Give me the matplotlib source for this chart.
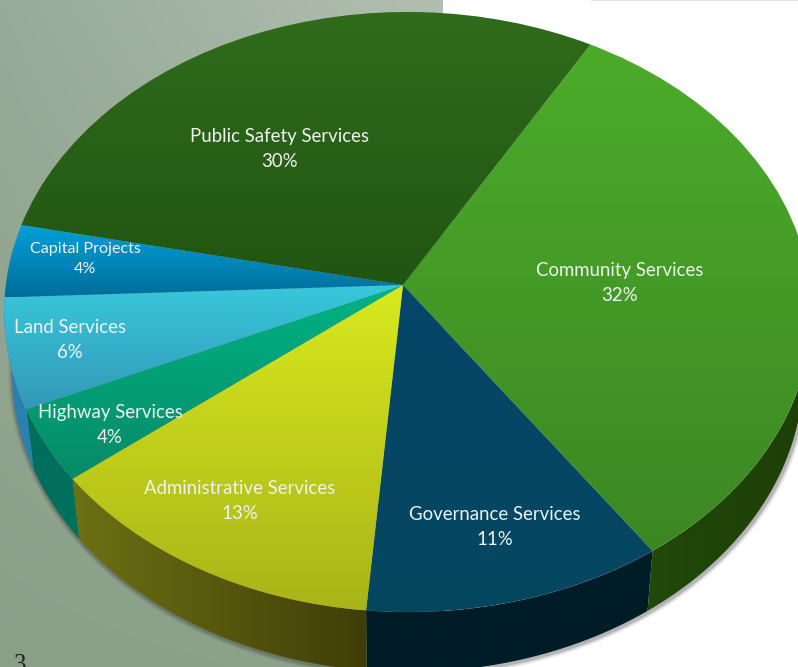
import numpy as np
import matplotlib
matplotlib.use('Agg')
import matplotlib.pyplot as plt
import matplotlib.transforms as mtransforms
from matplotlib.patches import Polygon

# slices, clockwise from the top right
names = ['Community Services', 'Governance Services', 'Administrative Services',
         'Highway Services', 'Land Services', 'Capital Projects', 'Public Safety Services']
shares = [32, 11, 13, 4, 6, 4, 30]

# top face colours (upper, lower)
top_cols = [('#4cac2a', '#3c8723'), ('#05466a', '#06465f'), ('#d8e91e', '#a9b418'),
            ('#00b384', '#068a68'), ('#38c8dc', '#3498b8'), ('#00a0d8', '#006e9a'),
            ('#306c1c', '#215512')]
# side wall colours (left, right)
side_cols = [('#22480a', '#1c3f06'), ('#001c26', '#001c26'), ('#6e7014', '#403e08'),
             ('#006e5c', '#00705c'), ('#2a80b0', '#2a80b0'), None, None]

cx, cy = 403, 285
rx, ry, k, m = 402, 297.6, 0.09, 0.012
depth = 60
shrink = 0.98


class Persp(mtransforms.Transform):
    input_dims = 2
    output_dims = 2
    is_separable = False
    has_inverse = False

    def transform_non_affine(self, values):
        values = np.asarray(values, dtype=float)
        w = 1 + k * values[:, 1] - m * values[:, 0]
        return np.column_stack((cx + rx * values[:, 0] / w, cy - ry * values[:, 1] / w))


def to_rgb(c):
    return np.array(matplotlib.colors.to_rgb(c))


fig = plt.figure(figsize=(7.98, 6.67), dpi=100)
ax = fig.add_axes([0, 0, 1, 1])

start = 60
wedges, _ = ax.pie(shares, startangle=start, counterclock=False)
ax.set_aspect('auto')
persp = Persp()

# background panel
c_tl, c_tr = to_rgb('#98ab98'), to_rgb('#b2bfb0')
c_bl, c_br = to_rgb('#8a9f88'), to_rgb('#8ea28c')
ty = np.linspace(0, 1, 60)[:, None, None]
tx = np.linspace(0, 1, 60)[None, :, None]
bg = (1 - ty) * ((1 - tx) * c_tl + tx * c_tr) + ty * ((1 - tx) * c_bl + tx * c_br)
ax.imshow(bg, extent=(0, 443, 667, 0), aspect='auto', zorder=0, interpolation='bilinear')

edges = start - np.cumsum([0] + shares) * 3.6
low, high = -190, -5

# soft shadow and side walls
arc_all = np.radians(np.linspace(-195, 0, 200))
pts = persp.transform_non_affine(np.column_stack((np.cos(arc_all), np.sin(arc_all))))
sx = cx + (pts[:, 0] - cx) * shrink
sy = pts[:, 1] + depth
for lw, a in [(7, 0.08), (5, 0.12), (3, 0.2)]:
    ax.plot(sx + 1, sy + 1, color='#303030', alpha=a, lw=lw, zorder=1)

for i, w in enumerate(wedges):
    if side_cols[i] is None:
        continue
    a0, a1 = min(edges[i], high), max(edges[i + 1], low)
    th = np.radians(np.linspace(a0, a1, 60))
    p = persp.transform_non_affine(np.column_stack((np.cos(th), np.sin(th))))
    low_x = cx + (p[:, 0] - cx) * shrink
    low_y = p[:, 1] + depth
    outline = np.vstack((p, np.column_stack((low_x, low_y))[::-1]))
    poly = Polygon(outline, closed=True, facecolor='none', edgecolor='none', zorder=2)
    ax.add_patch(poly)
    left, right = side_cols[i]
    s = np.linspace(0, 1, 64)[None, :, None]
    img = (1 - s) * to_rgb(left) + s * to_rgb(right)
    x0, x1 = outline[:, 0].min(), outline[:, 0].max()
    im = ax.imshow(img, extent=(x0, x1, outline[:, 1].max(), outline[:, 1].min()),
                   aspect='auto', zorder=2, interpolation='bilinear')
    im.set_clip_path(poly)

# top faces with a vertical gradient
for i, w in enumerate(wedges):
    w.set_transform(persp + ax.transData)
    w.set_facecolor('none')
    w.set_edgecolor('none')
    w.set_zorder(3)
    verts = persp.transform_non_affine(w.get_path().vertices)
    y0, y1 = verts[:, 1].min(), verts[:, 1].max()
    upper, lower = top_cols[i]
    s = np.linspace(0, 1, 128)[:, None, None]
    img = (1 - s) * to_rgb(upper) + s * to_rgb(lower)
    im = ax.imshow(img, extent=(0, 798, y1, y0), aspect='auto', zorder=3,
                   interpolation='bilinear')
    im.set_clip_path(w)

# labels
label_pos = [(620, 283), (495, 527), (240, 501), (110, 425), (70, 340), (85, 259), (279, 149)]
label_size = [13.4, 13.4, 13.4, 13.4, 13.4, 11.6, 13.4]
for name, share, (lx, ly), fs in zip(names, shares, label_pos, label_size):
    ax.text(lx, ly, f'{name}\n{share}%', color='#eef3ee', fontsize=fs, family='Lato',
            ha='center', va='center', linespacing=1.6, zorder=5)

ax.text(20, 665, '3', color='#202020', fontsize=18, family='Liberation Serif',
        ha='center', va='center', zorder=1)
ax.plot([592, 798], [0, 0], color='#e4e4e4', lw=1.5, zorder=1)

ax.set_xlim(0, 798)
ax.set_ylim(667, 0)
ax.axis('off')
fig.savefig('out.png', dpi=100)
